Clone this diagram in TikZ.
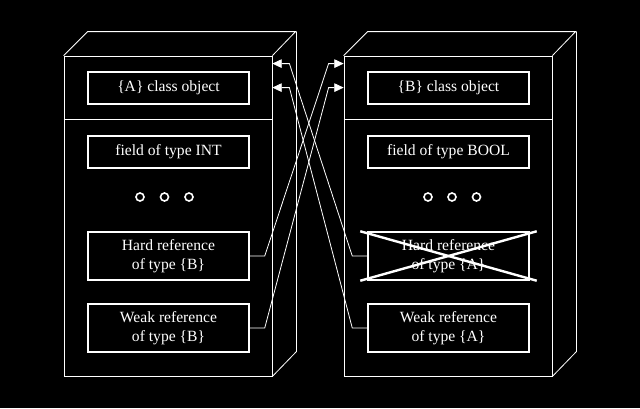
\documentclass[tikz,border=0pt]{standalone}
\usepackage{fontspec}
\setmainfont{Liberation Serif}
\usepackage{tikz}
\usetikzlibrary{arrows.meta}
\usetikzlibrary{calc}
\tikzstyle{obj_face} = [draw = white, minimum width = 156pt, minimum height = 240pt, inner sep = 0, line width = 0.6pt]
\tikzstyle{obj_edge} = [draw = white, line width = 0.6pt]
\tikzstyle{field_box} = [draw = white, line width = 1.1pt, minimum width = 120.75pt, minimum height = 24pt, inner sep = 0, text = white, font = \fontsize{11.7}{14.2}\selectfont, align = center]
\tikzstyle{ref_box} = [field_box, minimum height = 36pt]
\tikzstyle{more_dot} = [circle, draw = white, line width = 1.2pt, minimum size = 6pt, inner sep = 0]
\tikzstyle{ref_link} = [draw = white, line width = 0.6pt, -{Triangle[length = 7pt, width = 6.5pt]}]
\tikzstyle{cross_out} = [draw = white, line width = 1.8pt]

\begin{document}
\begin{tikzpicture}[x = 0.75pt, y = -0.75pt]
        \fill [black] (0,0) rectangle (640,408);
        \useasboundingbox (0,0) rectangle (640,408);
        % object of class {A}
        \node [style = {obj_face}] (objA) at (168,216) {};
        \draw [style = {obj_edge}] (objA.north west) -- ++(24,-24) -- ++(208,0) -- (objA.north east);
        \draw [style = {obj_edge}] ($(objA.north east)+(24,-24)$) -- ++(0,320) -- (objA.south east);
        \draw [style = {obj_edge}] ($(objA.north west)+(0,64)$) -- ($(objA.north east)+(0,64)$);
        \node [style = {field_box}] (classA) at (168.5,88) {\{A\} class object};
        \node [style = {field_box}] (intA) at (168.5,152) {field of type INT};
        \node [style = {more_dot}] (dotA1) at (140,197) {};
        \node [style = {more_dot}] (dotA2) at (164.5,197) {};
        \node [style = {more_dot}] (dotA3) at (189,197) {};
        \node [style = {ref_box}] (hardB) at (168.5,256) {Hard reference\\of type \{B\}};
        \node [style = {ref_box}] (weakB) at (168.5,328) {Weak reference\\of type \{B\}};
        % object of class {B}
        \node [style = {obj_face}] (objB) at (448,216) {};
        \draw [style = {obj_edge}] (objB.north west) -- ++(24,-24) -- ++(208,0) -- (objB.north east);
        \draw [style = {obj_edge}] ($(objB.north east)+(24,-24)$) -- ++(0,320) -- (objB.south east);
        \draw [style = {obj_edge}] ($(objB.north west)+(0,64)$) -- ($(objB.north east)+(0,64)$);
        \node [style = {field_box}] (classB) at (448.5,88) {\{B\} class object};
        \node [style = {field_box}] (boolB) at (448.5,152) {field of type BOOL};
        \node [style = {more_dot}] (dotB1) at (428,197) {};
        \node [style = {more_dot}] (dotB2) at (452,197) {};
        \node [style = {more_dot}] (dotB3) at (476.5,197) {};
        \node [style = {ref_box}] (hardA) at (448.5,256) {Hard reference\\of type \{A\}};
        \node [style = {ref_box}] (weakA) at (448.5,328) {Weak reference\\of type \{A\}};
        \draw [style = {cross_out}] ($(hardA.north west)+(-7,0)$) -- ($(hardA.south east)+(7,0)$);
        \draw [style = {cross_out}] ($(hardA.south west)+(-7,0)$) -- ($(hardA.north east)+(7,0)$);
        % references
        \coordinate (inB_hard) at ($(objB.north west)+(0,8)$);
        \coordinate (inB_weak) at ($(objB.north west)+(0,32)$);
        \coordinate (inA_hard) at ($(objA.north east)+(0,8)$);
        \coordinate (inA_weak) at ($(objA.north east)+(0,32)$);
        \draw [style = {ref_link}] (hardB.east) -- ++(15,0) -- ($(inB_hard)+(-15,0)$) -- (inB_hard);
        \draw [style = {ref_link}] (weakB.east) -- ++(15,0) -- ($(inB_weak)+(-15,0)$) -- (inB_weak);
        \draw [style = {ref_link}] (hardA.west) -- ++(-15,0) -- ($(inA_hard)+(17,0)$) -- (inA_hard);
        \draw [style = {ref_link}] (weakA.west) -- ++(-15,0) -- ($(inA_weak)+(17,0)$) -- (inA_weak);
    \end{tikzpicture}
\end{document}
